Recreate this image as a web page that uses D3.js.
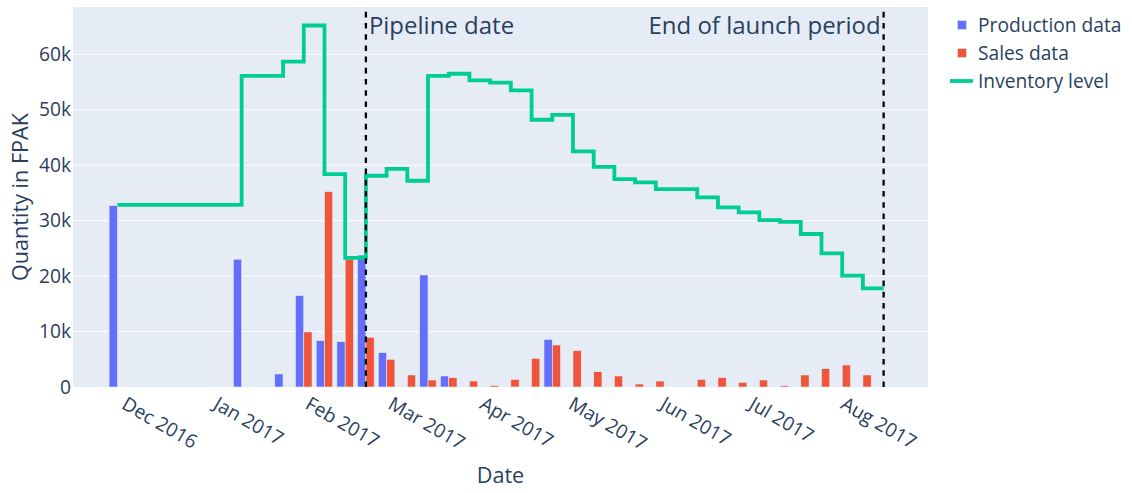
<!DOCTYPE html>
<html>
<head>
<meta charset="utf-8">
<script src="https://cdn.jsdelivr.net/npm/d3@7"></script>
<style>
  html, body { margin: 0; padding: 0; background: #fff; }
  svg { display: block; font-family: "Open Sans", sans-serif; }
</style>
</head>
<body>
<svg id="chart" width="1132" height="493"></svg>
<script>
// Weekly dates (one per bar group / inventory step)
const weeks = [
  "2016-11-30","2016-12-07","2016-12-14","2016-12-21","2016-12-28",
  "2017-01-04","2017-01-11","2017-01-18","2017-01-25","2017-02-01",
  "2017-02-08","2017-02-15","2017-02-22","2017-03-01","2017-03-08",
  "2017-03-15","2017-03-22","2017-03-29","2017-04-05","2017-04-12",
  "2017-04-19","2017-04-26","2017-05-03","2017-05-10","2017-05-17",
  "2017-05-24","2017-05-31","2017-06-07","2017-06-14","2017-06-21",
  "2017-06-28","2017-07-05","2017-07-12","2017-07-19","2017-07-26",
  "2017-08-02","2017-08-09","2017-08-16"
];

// Produced quantity per week (FPAK)
const production = [
  32700, 0, 0, 0, 0, 0, 23050, 0, 2350, 16500,
  8360, 8180, 23800, 6200, 0, 20200, 1990, 0, 0, 0,
  0, 8600, 0, 0, 0, 0, 0, 0, 0, 0,
  0, 0, 0, 0, 0, 0, 0, null
];

// Sold quantity per week (FPAK)
const sales = [
  0, 0, 0, 0, 0, 0, 0, 0, 0, 9930,
  35250, 23050, 8970, 5000, 2170, 1260, 1680, 1080, 240, 1380,
  5180, 7580, 6550, 2760, 1990, 540, 1080, 100, 1380, 1680,
  840, 1260, 240, 2170, 3300, 3970, 2170, null
];

// Inventory level at each week
const inventory = [
  32850, 32850, 32850, 32850, 32850, 32850, 56100, 56100, 58700, 65200,
  38400, 23300, 38100, 39350, 37200, 56100, 56500, 55300, 54900, 53500,
  48200, 49100, 42500, 39700, 37500, 36900, 35700, 35700, 34200, 32400,
  31500, 30100, 29800, 27600, 24100, 20100, 17800, 17800
];

// Reference dates drawn as dashed vertical lines
const markers = [
  { date: "2017-02-22", label: "Pipeline date", side: "right" },
  { date: "2017-08-16", label: "End of launch period", side: "left" }
];

const xRange = ["2016-11-15", "2017-08-31"];
const yMax = 68540;
const yTicks = [0, 10000, 20000, 30000, 40000, 50000, 60000];
const monthTicks = ["2016-12-01","2017-01-01","2017-02-01","2017-03-01","2017-04-01",
                    "2017-05-01","2017-06-01","2017-07-01","2017-08-01"];

const seriesNames = ["Production data", "Sales data", "Inventory level"];
const colors = { prod: "#636efa", sales: "#EF553B", inv: "#00cc96", text: "#2a3f5f", bg: "#E5ECF6" };

const parse = d3.utcParse("%Y-%m-%d");
const plot = { left: 73, right: 928, top: 7, bottom: 387 };

const svg = d3.select("#chart");

const x = d3.scaleUtc().domain(xRange.map(parse)).range([plot.left, plot.right]);
const y = d3.scaleLinear().domain([0, yMax]).range([plot.bottom, plot.top]);

// plot background
svg.append("rect")
  .attr("x", plot.left).attr("y", plot.top)
  .attr("width", plot.right - plot.left).attr("height", plot.bottom - plot.top)
  .attr("fill", colors.bg);

// horizontal gridlines
svg.append("g").selectAll("line").data(yTicks.filter(d => d > 0)).join("line")
  .attr("x1", plot.left).attr("x2", plot.right)
  .attr("y1", d => y(d)).attr("y2", d => y(d))
  .attr("stroke", "#fff").attr("stroke-width", 1);

// y axis labels
const yAxis = d3.axisLeft(y).tickValues(yTicks)
  .tickFormat(d => d === 0 ? "0" : (d / 1000) + "k").tickSize(0).tickPadding(2);
const yg = svg.append("g").attr("transform", `translate(${plot.left},0)`).call(yAxis);
yg.select(".domain").remove();
yg.selectAll("text").attr("font-size", 19.2).attr("fill", colors.text)
  .attr("font-family", "Open Sans");

// x axis labels (rotated month names)
const xAxis = d3.axisBottom(x).tickValues(monthTicks.map(parse))
  .tickFormat(d3.utcFormat("%b %Y")).tickSize(0);
const xg = svg.append("g").attr("transform", `translate(0,${plot.bottom})`).call(xAxis);
xg.select(".domain").remove();
xg.selectAll(".tick text")
  .attr("font-size", 19.2).attr("fill", colors.text).attr("font-family", "Open Sans")
  .attr("text-anchor", "start")
  .attr("x", 0).attr("y", 0).attr("dy", "0.35em")
  .attr("transform", "translate(3,15) rotate(30)");

// grouped bars: production left, sales right within each week slot
const dayPx = x(parse("2017-01-02")) - x(parse("2017-01-01"));
const slot = 7 * dayPx;
const barW = slot * 0.8 / 2;

const barData = [];
weeks.forEach((w, i) => {
  const cx = x(parse(w));
  if (production[i]) barData.push({ x: cx - barW, v: production[i], c: colors.prod });
  if (sales[i]) barData.push({ x: cx, v: sales[i], c: colors.sales });
});
svg.append("g").selectAll("rect").data(barData).join("rect")
  .attr("x", d => d.x).attr("width", barW)
  .attr("y", d => y(d.v)).attr("height", d => y(0) - y(d.v))
  .attr("fill", d => d.c)
  .attr("stroke", colors.bg).attr("stroke-width", 0.6);

// inventory as a step line (horizontal, then vertical)
const line = d3.line()
  .x((d, i) => x(parse(weeks[i])))
  .y(d => y(d))
  .curve(d3.curveStepAfter);
svg.append("path").datum(inventory)
  .attr("d", line)
  .attr("fill", "none").attr("stroke", colors.inv)
  .attr("stroke-width", 3.8).attr("stroke-linejoin", "miter");

// dashed reference lines with labels
markers.forEach(m => {
  const mx = x(parse(m.date));
  svg.append("line")
    .attr("x1", mx).attr("x2", mx)
    .attr("y1", plot.bottom).attr("y2", plot.top)
    .attr("stroke", "#000").attr("stroke-width", 2.3)
    .attr("stroke-dasharray", "5.6,5.6");
  svg.append("text")
    .attr("x", m.side === "right" ? mx + 3 : mx - 3)
    .attr("y", 34)
    .attr("text-anchor", m.side === "right" ? "start" : "end")
    .attr("font-size", 24).attr("fill", colors.text)
    .text(m.label);
});

// axis titles
svg.append("text")
  .attr("x", (plot.left + plot.right) / 2).attr("y", 483)
  .attr("text-anchor", "middle").attr("font-size", 21.6).attr("fill", colors.text)
  .text("Date");
svg.append("text")
  .attr("transform", `translate(28,${(plot.top + plot.bottom) / 2}) rotate(-90)`)
  .attr("text-anchor", "middle").attr("font-size", 21.6).attr("fill", colors.text)
  .text("Quantity in FPAK");

// legend
const legend = svg.append("g");
const legendRows = [
  { name: seriesNames[0], c: colors.prod, kind: "bar" },
  { name: seriesNames[1], c: colors.sales, kind: "bar" },
  { name: seriesNames[2], c: colors.inv, kind: "line" }
];
legendRows.forEach((r, i) => {
  const ly = 25 + i * 28;
  if (r.kind === "bar") {
    legend.append("rect").attr("x", 957.5).attr("y", ly - 4.5)
      .attr("width", 9).attr("height", 9).attr("fill", r.c)
      .attr("stroke", colors.bg).attr("stroke-width", 0.6);
  } else {
    legend.append("line").attr("x1", 950).attr("x2", 973)
      .attr("y1", ly).attr("y2", ly)
      .attr("stroke", r.c).attr("stroke-width", 3.8);
  }
  legend.append("text").attr("x", 978).attr("y", ly).attr("dy", "0.35em")
    .attr("font-size", 19.2).attr("fill", colors.text).text(r.name);
});
</script>
</body>
</html>
